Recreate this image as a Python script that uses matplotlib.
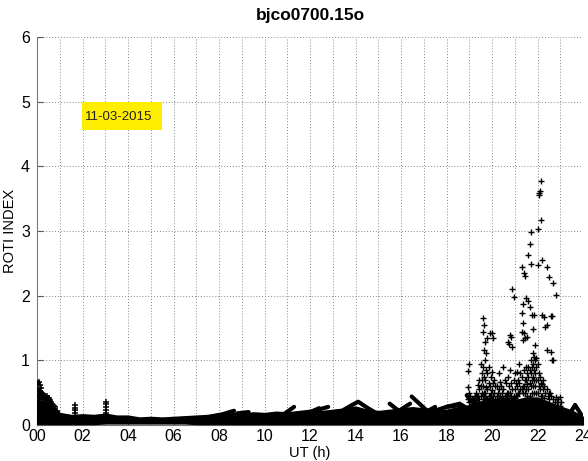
import matplotlib
matplotlib.use("Agg")
import matplotlib.pyplot as plt
from matplotlib.patches import Rectangle

plt.rcParams["font.family"] = ["Liberation Sans", "DejaVu Sans"]

# ---------------- data ----------------
# dense low-level band of ROTI points (envelope)
band_hours = [0, 0.25, 0.5, 0.75, 1, 1.5, 2, 2.5, 3, 3.5, 4, 4.5, 5, 5.5, 6,
              6.5, 7, 7.5, 8, 8.5, 9, 9.5, 10, 10.5, 11, 11.5, 12, 12.5, 13,
              13.5, 14, 14.5, 15, 15.5, 16, 16.5, 17, 17.5, 18, 18.5, 19, 19.5,
              20, 20.5, 21, 21.5, 22, 22.5, 23, 23.5, 24]
band_top = [0.38, 0.36, 0.32, 0.26, 0.18, 0.15, 0.16, 0.15, 0.17, 0.14, 0.14,
            0.11, 0.12, 0.11, 0.12, 0.13, 0.14, 0.15, 0.18, 0.19, 0.17, 0.19,
            0.18, 0.2, 0.19, 0.21, 0.23, 0.21, 0.23, 0.25, 0.28, 0.23, 0.21,
            0.23, 0.25, 0.27, 0.25, 0.24, 0.23, 0.27, 0.3, 0.36, 0.38, 0.4,
            0.38, 0.42, 0.42, 0.35, 0.28, 0.22, 0.12]
band_bot = [0.02] * 8 + [0.03] * 8 + [0.02] * 35

# individual satellite arcs standing out of the band
arc_hours = [[7.6, 8.1, 8.66], [8.8, 9.3], [10.9, 11.1, 11.3], [11.7, 12.4],
             [12.0, 12.8], [13.46, 13.8, 14.12, 14.5, 14.93],
             [15.5, 15.9, 16.25], [15.66, 16.0, 16.4],
             [16.47, 16.9, 17.27], [16.84, 17.5], [17.57, 18.0, 18.59],
             [18.0, 18.67, 19.03], [18.89, 19.11],
             [19.2, 19.5, 19.8, 20.1, 20.4, 20.7, 21.0],
             [23.43, 23.65, 23.94]]
arc_rotis = [[0.12, 0.16, 0.22], [0.18, 0.20], [0.18, 0.23, 0.28], [0.15, 0.26],
             [0.20, 0.28], [0.23, 0.30, 0.36, 0.27, 0.18],
             [0.33, 0.22, 0.13], [0.15, 0.24, 0.33],
             [0.44, 0.30, 0.18], [0.15, 0.28], [0.23, 0.28, 0.33],
             [0.28, 0.31, 0.23], [0.46, 0.36],
             [0.35, 0.22, 0.38, 0.25, 0.40, 0.28, 0.42],
             [0.18, 0.31, 0.15]]

# scattered points, grouped in time columns
early_cols = [0.03, 0.08, 0.13, 0.18, 0.23, 0.28, 0.33, 0.38, 0.43, 0.48,
              0.53, 0.58, 0.63, 0.68, 0.73, 0.8, 0.9, 1.67, 3.05]
early_vals = [[0.65, 0.55, 0.45], [0.67, 0.5, 0.4], [0.62, 0.52, 0.42],
              [0.57, 0.47, 0.4], [0.5, 0.43], [0.48, 0.4], [0.45, 0.38],
              [0.41, 0.36], [0.45, 0.33], [0.38, 0.3], [0.42, 0.33],
              [0.39, 0.3], [0.35, 0.28], [0.33, 0.27], [0.3, 0.25],
              [0.28, 0.22], [0.22, 0.2],
              [0.31, 0.27, 0.23, 0.18], [0.36, 0.32, 0.28, 0.23, 0.19]]

storm_cols = [18.95, 19.0, 19.05, 19.1, 19.15, 19.2, 19.25, 19.3, 19.35, 19.4,
              19.45, 19.5, 19.55, 19.6, 19.65, 19.7, 19.75, 19.8, 19.85, 19.9,
              19.95, 20.0, 20.05, 20.1, 20.15, 20.2, 20.25, 20.3, 20.35, 20.4,
              20.45, 20.5, 20.55, 20.6, 20.65, 20.7, 20.75, 20.8, 20.85, 20.9,
              20.95, 21.0, 21.05, 21.1, 21.15, 21.2, 21.25, 21.3, 21.35, 21.4,
              21.45, 21.5, 21.55, 21.6, 21.65, 21.7, 21.75, 21.8, 21.85, 21.9,
              21.95, 22.0, 22.05, 22.1, 22.15, 22.2, 22.25, 22.3, 22.35, 22.4,
              22.45, 22.5, 22.55, 22.6, 22.65, 22.7, 22.75, 22.8, 22.85, 22.9,
              23.0, 23.05]
storm_vals = [[0.84, 0.59, 0.4], [0.95, 0.5, 0.35], [0.45, 0.3], [0.4, 0.28],
              [0.32, 0.38], [0.42, 0.3], [0.35, 0.45], [0.5, 0.38], [0.45, 0.3],
              [0.62, 0.45, 0.35], [0.7, 0.55, 0.4], [0.95, 0.6, 0.45],
              [0.8, 0.7, 0.5], [1.65, 1.44, 0.9, 0.6, 0.45],
              [1.55, 1.16, 0.75, 0.5, 0.4], [1.29, 1.0, 0.7, 0.5, 0.38],
              [1.11, 0.85, 0.59, 0.42], [1.34, 0.8, 0.55, 0.4],
              [0.9, 0.65, 0.45], [1.42, 0.6, 0.45], [0.75, 0.5, 0.4],
              [1.42, 0.82, 0.54, 0.4], [1.34, 0.65, 0.45], [0.7, 0.5, 0.35],
              [0.6, 0.4], [0.6, 0.45], [0.5, 0.38], [0.8, 0.55, 0.42],
              [0.67, 0.45], [0.6, 0.4], [0.5, 0.38], [0.9, 0.55, 0.42],
              [0.7, 0.45], [0.65, 0.45], [0.5, 0.42], [1.29, 0.75, 0.5],
              [1.26, 0.6, 0.42], [1.39, 0.85, 0.5], [1.36, 0.65, 0.45],
              [2.1, 1.21, 0.55], [1.98, 0.7, 0.45], [0.8, 0.55, 0.42],
              [0.65, 0.45], [0.82, 0.6, 0.45], [0.7, 0.5], [0.95, 0.65, 0.5],
              [0.8, 0.55], [2.45, 1.73, 1.44, 0.75, 0.55],
              [1.87, 1.57, 1.31, 0.6, 0.5], [2.35, 1.43, 0.85, 0.6],
              [2.31, 1.34, 0.7, 0.5], [1.96, 0.9, 0.7, 0.55],
              [1.36, 0.8, 0.64, 0.45], [2.63, 1.91, 0.9, 0.75, 0.55],
              [2.8, 1.83, 0.85, 0.65, 0.45], [2.99, 2.49, 1.0, 0.8, 0.6],
              [1.7, 0.9, 0.7, 0.5], [1.49, 1.11, 0.95, 0.75, 0.6],
              [1.7, 1.05, 0.85, 0.7, 0.5], [1.24, 1.0, 0.8, 0.6],
              [1.03, 0.9, 0.7, 0.5], [3.03, 2.47, 0.95, 0.7, 0.5],
              [3.59, 3.56, 0.8, 0.6], [3.62, 0.75, 0.55],
              [3.77, 3.17, 0.65, 0.45], [2.55, 1.7, 0.64, 0.45], [0.7, 0.55],
              [1.67, 0.6, 0.42], [1.52, 0.5], [2.44, 1.55, 1.16, 0.55], [0.45],
              [2.29, 0.5, 0.4], [0.49], [1.69, 1.13, 0.45], [1.68, 1.0],
              [2.19, 1.0, 0.4], [0.35], [2.01, 0.44], [0.35], [0.4, 0.3],
              [0.44, 0.3], [0.36]]

x_ticks = list(range(0, 25, 2))
x_ticklabels = ["%02d" % h for h in x_ticks]
y_ticks = [0, 1, 2, 3, 4, 5, 6]

title = "bjco0700.15o"
date_label = "11-03-2015"

# ---------------- figure ----------------
fig = plt.figure(figsize=(5.88, 4.61), dpi=100)
ax = fig.add_axes([37 / 588, 36 / 461, 546 / 588, 388 / 461])

ax.fill_between(band_hours, band_bot, band_top, color="black", lw=1.5, zorder=3)
for hs, vs in zip(arc_hours, arc_rotis):
    ax.plot(hs, vs, color="black", lw=3, solid_capstyle="round", zorder=3)


def flatten(cols, vals):
    xs, ys = [], []
    for c, vl in zip(cols, vals):
        for v in vl:
            xs.append(c)
            ys.append(v)
    return xs, ys


ex, ey = flatten(early_cols, early_vals)
sx, sy = flatten(storm_cols, storm_vals)
ax.plot(ex, ey, linestyle="none", marker="+", color="black", ms=5, mew=1.1, zorder=4)
ax.plot(sx, sy, linestyle="none", marker="+", color="black", ms=5, mew=1.0, zorder=4)

ax.set_xlim(0, 24)
ax.set_ylim(0, 6)
ax.set_xticks(x_ticks)
ax.set_xticklabels(x_ticklabels, fontsize=11.5)
ax.set_xticks(range(0, 25), minor=True)
ax.set_yticks(y_ticks)
ax.set_yticklabels([str(v) for v in y_ticks], fontsize=11.5)
ax.tick_params(direction="in", length=4, color="#555555")
ax.tick_params(axis="x", pad=3)
ax.tick_params(axis="y", pad=5)
ax.tick_params(which="minor", length=0)
ax.grid(True, which="both", axis="x", linestyle=(0, (1, 2)), color="#888888", lw=0.7)
ax.grid(True, which="major", axis="y", linestyle=(0, (1, 2)), color="#888888", lw=0.7)
ax.set_axisbelow(True)
for s in ["top", "right"]:
    ax.spines[s].set_visible(False)
for s in ["left", "bottom"]:
    ax.spines[s].set_color("#777777")

ax.set_title(title, fontsize=12.5, fontweight="bold", pad=12)
ax.set_xlabel("UT (h)", fontsize=10.5, labelpad=1)
ax.set_ylabel("ROTI INDEX", fontsize=10.5, labelpad=3)

ax.add_patch(Rectangle((1.98, 4.56), 3.5, 0.43, facecolor="#ffee00",
                       edgecolor="none", zorder=5))
ax.text(2.12, 4.77, date_label, fontsize=9.5, color="#222222", va="center",
        ha="left", zorder=6)

fig.savefig("out.png", dpi=100)
